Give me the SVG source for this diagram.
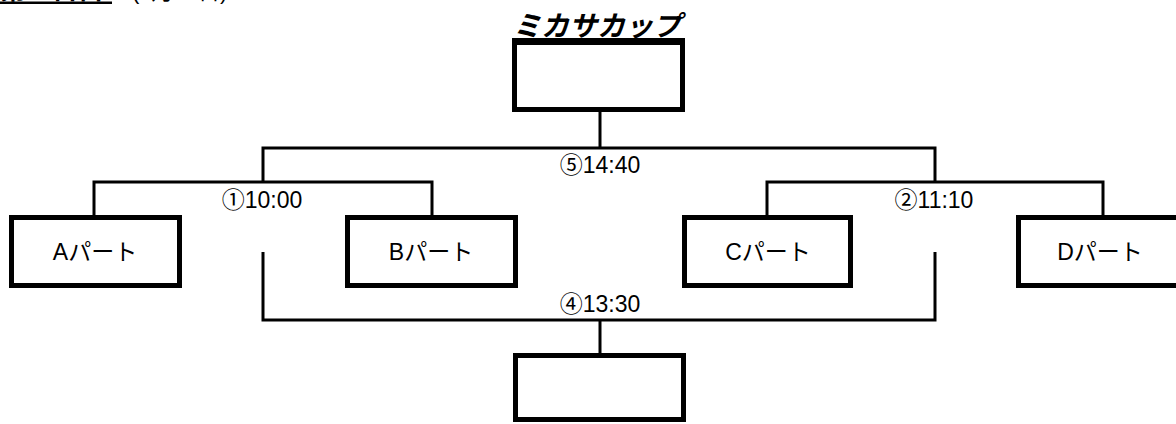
<svg xmlns="http://www.w3.org/2000/svg" width="1176" height="424" viewBox="0 0 1176 424">
<style>
  .box { fill: #fff; stroke: #000; stroke-width: 5; }
  .ln { fill: none; stroke: #000; stroke-width: 3; }
  .lbl { font-family: "Liberation Sans", "Noto Sans CJK JP", sans-serif; font-size: 23px; fill: #000; text-anchor: middle; }
  .node { font-family: "Liberation Sans", "Noto Sans CJK JP", sans-serif; font-size: 23px; fill: #000; text-anchor: middle; }
</style>
<rect width="1176" height="424" fill="#fff"/>
<g id="header">
  <text x="0" y="-1" style="font-family:'Noto Sans CJK JP',sans-serif;font-size:26px;font-weight:bold;fill:#000">第三日目</text>
  <rect x="0" y="1.5" width="112" height="2.5" fill="#000"/>
  <text x="132" y="-1" style="font-family:'Liberation Sans','Noto Sans CJK JP',sans-serif;font-size:22px;fill:#000">(1月21日)</text>
</g>
<g id="connectors">
  <polyline class="ln" points="600,112 600,148"/>
  <polyline class="ln" points="263,182 263,148 935,148 935,182"/>
  <polyline class="ln" points="94,215 94,182 432,182 432,215"/>
  <polyline class="ln" points="767,215 767,182 1103,182 1103,215"/>
  <polyline class="ln" points="263,252 263,320 935,320 935,252"/>
  <polyline class="ln" points="600,320 600,355"/>
</g>
<g id="labels">
  <text class="lbl" x="262" y="208">①10:00</text>
  <text class="lbl" x="600" y="173">⑤14:40</text>
  <text class="lbl" x="934" y="208">②11:10</text>
  <text class="lbl" x="600" y="312">④13:30</text>
</g>
<g id="champion">
  <rect class="box" x="514.5" y="42.5" width="168" height="67"/>
  <text x="513" y="36" style="font-family:'Noto Sans CJK JP',sans-serif;font-size:28px;font-weight:bold;font-style:italic;fill:#000">ミカサカップ</text>
  <rect x="512" y="38" width="173" height="3" fill="#000"/>
</g>
<g id="partA">
  <rect class="box" x="11.5" y="217.5" width="168" height="68"/>
  <text class="node" x="95" y="260">Aパート</text>
</g>
<g id="partB">
  <rect class="box" x="347.5" y="217.5" width="168" height="68"/>
  <text class="node" x="431" y="260">Bパート</text>
</g>
<g id="partC">
  <rect class="box" x="684.5" y="217.5" width="166" height="68"/>
  <text class="node" x="768" y="260">Cパート</text>
</g>
<g id="partD">
  <rect class="box" x="1018.5" y="217.5" width="170" height="68"/>
  <text class="node" x="1100" y="260">Dパート</text>
</g>
<g id="third">
  <rect class="box" x="515.5" y="355.5" width="168" height="64"/>
</g>
</svg>
